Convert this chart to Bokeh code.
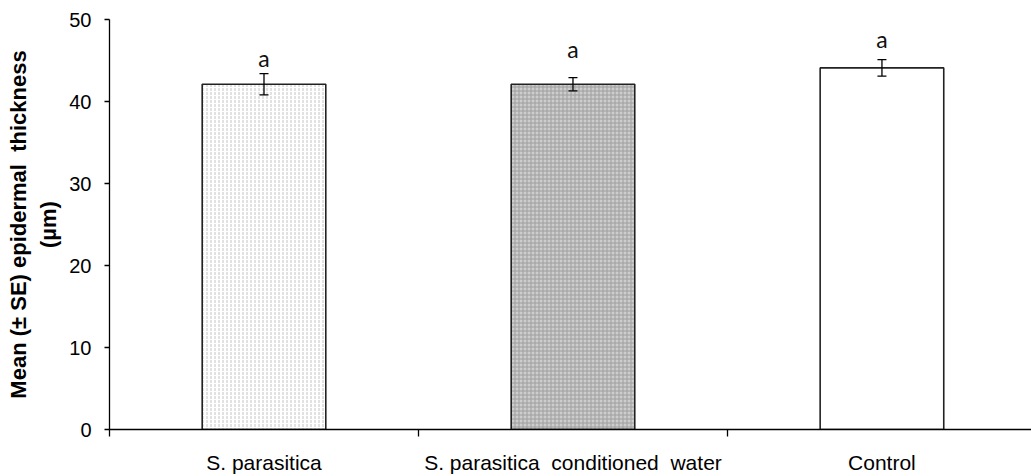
from bokeh.plotting import figure
from bokeh.models import Range1d, FixedTicker, ColumnDataSource, Whisker
from bokeh.core.properties import value
from bokeh.embed import file_html
from bokeh.resources import INLINE

# Epidermal thickness by treatment
treatments = ["S. parasitica", "S. parasitica\u00a0 conditioned\u00a0 water", "Control"]
mean_thickness = [42.1, 42.1, 44.1]
se_thickness = [1.3, 0.8, 1.0]
letters = ["a", "a", "a"]
y_ticks = [0, 10, 20, 30, 40, 50]

# bar centres on a numeric axis, one unit per treatment
x_pos = [i + 0.5 for i in range(len(treatments))]
letter_gap = [1.9, 3.5, 2.5]

p = figure(width=1031, height=476, output_backend="svg", toolbar_location=None,
           x_range=Range1d(0, 2.984), y_range=Range1d(0, 50),
           min_border_left=109, min_border_right=0, min_border_top=19,
           min_border_bottom=47)
p.outline_line_color = None
p.xgrid.visible = False
p.ygrid.visible = False
p.background_fill_color = "white"
p.border_fill_color = "white"

fills = ["white", "#cdcdcd", "white"]
hatches = ["vertical_dash", "cross", " "]
hatch_cols = ["#c4c4c4", "#9e9e9e", "white"]

for i in range(len(treatments)):
    p.vbar(x=[x_pos[i]], top=[mean_thickness[i]], bottom=0, width=0.4,
           fill_color=fills[i], hatch_pattern=hatches[i], hatch_color=hatch_cols[i],
           hatch_scale=4, hatch_weight=1,
           line_color="#222222", line_width=1.6)

src = ColumnDataSource(dict(
    x=x_pos,
    lower=[m - s for m, s in zip(mean_thickness, se_thickness)],
    upper=[m + s for m, s in zip(mean_thickness, se_thickness)],
    ly=[m + s + g for m, s, g in zip(mean_thickness, se_thickness, letter_gap)],
    lab=letters,
))
w = Whisker(base="x", lower="lower", upper="upper", source=src,
            line_color="black", line_width=1.3, level="overlay")
w.upper_head.size = 9
w.lower_head.size = 9
w.upper_head.line_width = 1.3
w.lower_head.line_width = 1.3
w.upper_head.line_color = "black"
w.lower_head.line_color = "black"
p.add_layout(w)

p.text(x="x", y="ly", text="lab", source=src, text_font=value("Lato"),
       text_font_size="23px", text_align="center", text_baseline="middle",
       text_color="#111111")

# x axis: labels at bar centres, boundary ticks between treatments
p.xaxis.ticker = FixedTicker(ticks=x_pos, minor_ticks=[0, 1, 2, 3])
p.xaxis.major_label_overrides = {x: t for x, t in zip(x_pos, treatments)}
p.xaxis.major_tick_out = 0
p.xaxis.major_tick_in = 0
p.xaxis.minor_tick_out = 7
p.xaxis.minor_tick_in = 0
p.xaxis.minor_tick_line_color = "black"
p.xaxis.minor_tick_line_width = 1.3
p.xaxis.axis_line_color = "black"
p.xaxis.axis_line_width = 1.3
p.xaxis.major_label_text_font = "Liberation Sans"
p.xaxis.major_label_text_font_size = "21px"
p.xaxis.major_label_text_color = "black"
p.xaxis.major_label_standoff = 14

# y axis
p.yaxis.ticker = FixedTicker(ticks=y_ticks)
p.yaxis.major_tick_out = 5
p.yaxis.major_tick_in = 0
p.yaxis.minor_tick_line_color = None
p.yaxis.major_tick_line_color = "black"
p.yaxis.major_tick_line_width = 1.3
p.yaxis.axis_line_color = "black"
p.yaxis.axis_line_width = 1.3
p.yaxis.major_label_text_font = "Liberation Sans"
p.yaxis.major_label_text_font_size = "20px"
p.yaxis.major_label_text_color = "black"
p.yaxis.major_label_standoff = 13
p.yaxis.axis_label = "Mean (± SE) epidermal\u00a0 thickness\n(µm)"
p.yaxis.axis_label_text_font = "Liberation Sans"
p.yaxis.axis_label_text_font_style = "bold"
p.yaxis.axis_label_text_font_size = "22px"
p.yaxis.axis_label_text_color = "black"
p.yaxis.axis_label_standoff = 5

open("out.html", "w").write(file_html(p, INLINE))
